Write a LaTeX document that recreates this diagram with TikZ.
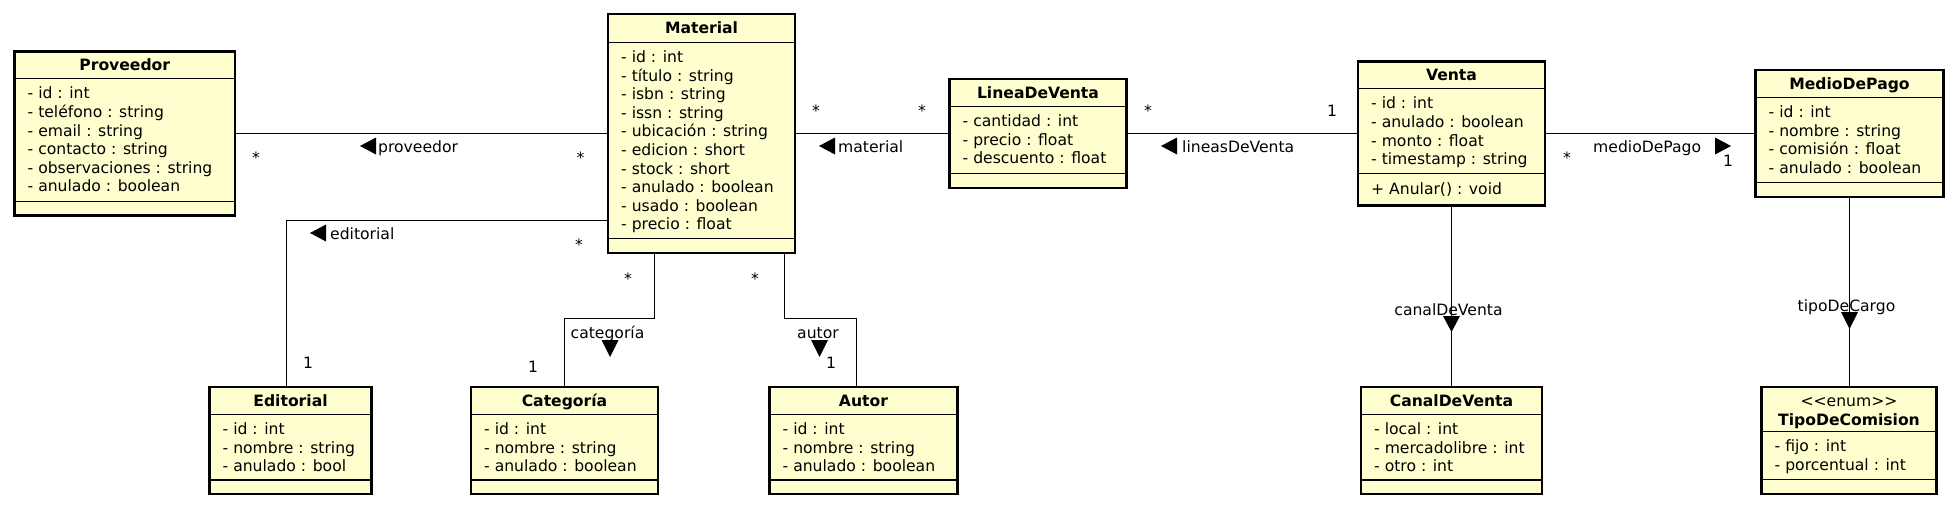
\documentclass[tikz,border=0pt]{standalone}
\usepackage{fontspec}
\setmainfont{DejaVu Sans}
\definecolor{classfill}{HTML}{FEFECE}
\begin{document}
\fontsize{15.6}{18.6}\selectfont
\begin{tikzpicture}
[x=1pt,y=-1pt,
class/.style={draw,line width=2.8pt,fill=classfill,inner sep=0,outer sep=0,anchor=north west},
compartment/.style={line width=1.2pt},
classname/.style={font=\bfseries,inner sep=0,anchor=base},
attrs/.style={align=left,inner sep=0,anchor=north west,execute at begin node=\strut},
assoc/.style={line width=1pt},
mult/.style={inner sep=0,anchor=base},
role/.style={inner sep=0,anchor=base west}]
\useasboundingbox (0,0) rectangle (1957,509);
% classes, top row
\node[class,minimum width=220.5,minimum height=164.5] (prov) at (14.5,51.25) {};
\node[classname] (provn) at ([yshift=-19.5]prov.north) {Proveedor};
\draw[compartment] ([yshift=-27.5]prov.north west) -- ([yshift=-27.5]prov.north east);
\draw[compartment] ([yshift=-150.5]prov.north west) -- ([yshift=-150.5]prov.north east);
\node[attrs] (prova) at ([xshift=13,yshift=-35.5]prov.north west)
  {- id : int\\- teléfono : string\\- email : string\\- contacto : string\\- observaciones : string\\- anulado : boolean};
\node[class,minimum width=187,minimum height=239] (mat) at (608,14) {};
\node[classname] (matn) at ([yshift=-19.5]mat.north) {Material};
\draw[compartment] ([yshift=-28.5]mat.north west) -- ([yshift=-28.5]mat.north east);
\draw[compartment] ([yshift=-224.5]mat.north west) -- ([yshift=-224.5]mat.north east);
\node[attrs] (mata) at ([xshift=13,yshift=-36.5]mat.north west)
  {- id : int\\- título : string\\- isbn : string\\- issn : string\\- ubicación : string\\- edicion : short\\- stock : short\\- anulado : boolean\\- usado : boolean\\- precio : float};
\node[class,minimum width=177,minimum height=109] (ldv) at (949.5,79) {};
\node[classname] (ldvn) at ([yshift=-19.5]ldv.north) {LineaDeVenta};
\draw[compartment] ([yshift=-27.5]ldv.north west) -- ([yshift=-27.5]ldv.north east);
\draw[compartment] ([yshift=-94.5]ldv.north west) -- ([yshift=-94.5]ldv.north east);
\node[attrs] (ldva) at ([xshift=13,yshift=-35.5]ldv.north west)
  {- cantidad : int\\- precio : float\\- descuento : float};
\node[class,minimum width=187,minimum height=144.5] (ven) at (1358,61.25) {};
\node[classname] (venn) at ([yshift=-19.5]ven.north) {Venta};
\draw[compartment] ([yshift=-27.5]ven.north west) -- ([yshift=-27.5]ven.north east);
\draw[compartment] ([yshift=-112]ven.north west) -- ([yshift=-112]ven.north east);
\node[attrs] (vena) at ([xshift=13,yshift=-35.5]ven.north west)
  {- id : int\\- anulado : boolean\\- monto : float\\- timestamp : string};
\node[attrs] (venm) at ([xshift=13,yshift=-120]ven.north west) {+ Anular() : void};
\node[class,minimum width=188,minimum height=127] (mdp) at (1755.5,70) {};
\node[classname] (mdpn) at ([yshift=-19.5]mdp.north) {MedioDePago};
\draw[compartment] ([yshift=-27.5]mdp.north west) -- ([yshift=-27.5]mdp.north east);
\draw[compartment] ([yshift=-112.5]mdp.north west) -- ([yshift=-112.5]mdp.north east);
\node[attrs] (mdpa) at ([xshift=13,yshift=-35.5]mdp.north west)
  {- id : int\\- nombre : string\\- comisión : float\\- anulado : boolean};
% classes, bottom row
\node[class,minimum width=162,minimum height=107] (edi) at (209.5,387) {};
\node[classname] (edin) at ([yshift=-19.5]edi.north) {Editorial};
\draw[compartment] ([yshift=-27.5]edi.north west) -- ([yshift=-27.5]edi.north east);
\draw[compartment] ([yshift=-93]edi.north west) -- ([yshift=-93]edi.north east);
\node[attrs] (edia) at ([xshift=13,yshift=-35.5]edi.north west)
  {- id : int\\- nombre : string\\- anulado : bool};
\node[class,minimum width=187,minimum height=107] (cat) at (471,387) {};
\node[classname] (catn) at ([yshift=-19.5]cat.north) {Categoría};
\draw[compartment] ([yshift=-27.5]cat.north west) -- ([yshift=-27.5]cat.north east);
\draw[compartment] ([yshift=-93]cat.north west) -- ([yshift=-93]cat.north east);
\node[attrs] (cata) at ([xshift=13,yshift=-35.5]cat.north west)
  {- id : int\\- nombre : string\\- anulado : boolean};
\node[class,minimum width=188,minimum height=107] (aut) at (769.5,387) {};
\node[classname] (autn) at ([yshift=-19.5]aut.north) {Autor};
\draw[compartment] ([yshift=-27.5]aut.north west) -- ([yshift=-27.5]aut.north east);
\draw[compartment] ([yshift=-93]aut.north west) -- ([yshift=-93]aut.north east);
\node[attrs] (auta) at ([xshift=13,yshift=-35.5]aut.north west)
  {- id : int\\- nombre : string\\- anulado : boolean};
\node[class,minimum width=181,minimum height=107] (cdv) at (1361,387) {};
\node[classname] (cdvn) at ([yshift=-19.5]cdv.north) {CanalDeVenta};
\draw[compartment] ([yshift=-27.5]cdv.north west) -- ([yshift=-27.5]cdv.north east);
\draw[compartment] ([yshift=-93]cdv.north west) -- ([yshift=-93]cdv.north east);
\node[attrs] (cdva) at ([xshift=13,yshift=-35.5]cdv.north west)
  {- local : int\\- mercadolibre : int\\- otro : int};
\node[class,minimum width=175,minimum height=107] (tdc) at (1761.5,387) {};
\node[inner sep=0,anchor=base] (tdcs) at ([yshift=-19.5]tdc.north) {<\kern0pt<enum>\kern0pt>};
\node[classname] (tdcn) at ([yshift=-38]tdc.north) {TipoDeComision};
\draw[compartment] ([yshift=-44.5]tdc.north west) -- ([yshift=-44.5]tdc.north east);
\draw[compartment] ([yshift=-92.5]tdc.north west) -- ([yshift=-92.5]tdc.north east);
\node[attrs] (tdca) at ([xshift=13,yshift=-52.5]tdc.north west)
  {- fijo : int\\- porcentual : int};
% associations
\draw[assoc] (prov.east) -- (prov.east -| mat.west);
\draw[assoc] ([yshift=-87]mat.west) -| ([xshift=-4]edi.north);
\draw[assoc] ([xshift=-47]mat.south) -- ++(0,65.5) -| (cat.north);
\draw[assoc] ([xshift=83]mat.south) -- ++(0,65.5) -| ([xshift=-7]aut.north);
\draw[assoc] (mat.east) -- (mat.east -| ldv.west);
\draw[assoc] (ldv.east) -- (ldv.east -| ven.west);
\draw[assoc] (ven.east) -- (ven.east -| mdp.west);
\draw[assoc] (ven.south) -- (ven.south |- cdv.north);
\draw[assoc] (mdp.south) -- (mdp.south |- tdc.north);
% multiplicities and role names
\node[mult] (m1) at (256,163) {*};
\node[mult] (m2) at (580.5,163) {*};
\node[role] (r1) at (378,152.5) {proveedor};
\fill (360,146) -- ++(16,-8.5) -- ++(0,17) -- cycle;
\node[mult] (m3) at (579,250.5) {*};
\node[mult] (m4) at (308,368.5) {1};
\node[role] (r2) at (330,239.5) {editorial};
\fill (310,233) -- ++(16,-8.5) -- ++(0,17) -- cycle;
\node[mult] (m5) at (628,284.5) {*};
\node[mult] (m6) at (533,372.5) {1};
\node[mult] (r3) at (607.5,338) {categoría};
\fill (610,357) -- ++(-8.5,-17) -- ++(17,0) -- cycle;
\node[mult] (m7) at (755,284.5) {*};
\node[mult] (m8) at (831,368.5) {1};
\node[mult] (r4) at (818,338) {autor};
\fill (819.5,357) -- ++(-8.5,-17) -- ++(17,0) -- cycle;
\node[mult] (m9) at (816,116) {*};
\node[mult] (m10) at (922,116) {*};
\node[role] (r5) at (838,152.5) {material};
\fill (819,146) -- ++(16,-8.5) -- ++(0,17) -- cycle;
\node[mult] (m11) at (1148,116) {*};
\node[mult] (m12) at (1332,116) {1};
\node[role] (r6) at (1182,152.5) {lineasDeVenta};
\fill (1161,146) -- ++(16,-8.5) -- ++(0,17) -- cycle;
\node[mult] (m13) at (1567,163) {*};
\node[mult] (m14) at (1728,166) {1};
\node[role] (r7) at (1593,152.5) {medioDePago};
\fill (1731,146) -- ++(-16,-8.5) -- ++(0,17) -- cycle;
\node[mult] (r8) at (1448.5,315.5) {canalDeVenta};
\fill (1451.5,332) -- ++(-8.5,-16) -- ++(17,0) -- cycle;
\node[mult] (r9) at (1846.5,311) {tipoDeCargo};
\fill (1849.5,329) -- ++(-8.5,-17) -- ++(17,0) -- cycle;
\end{tikzpicture}
\end{document}
